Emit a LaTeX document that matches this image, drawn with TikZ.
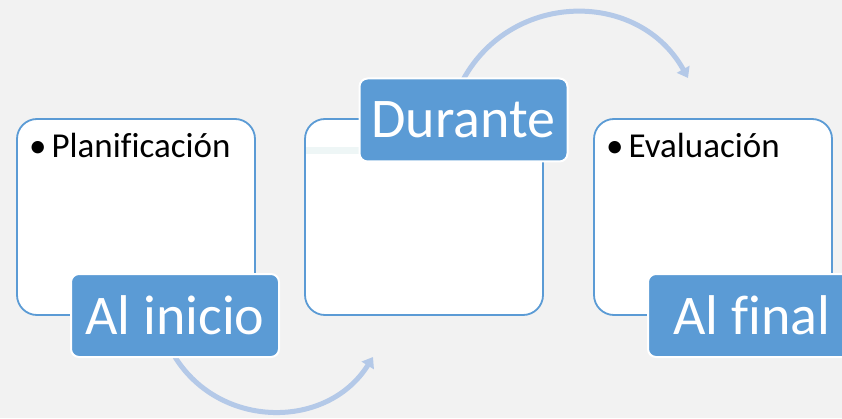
\documentclass[tikz,border=0pt]{standalone}
\usepackage{fontspec}
\setmainfont[Ligatures=NoCommon]{Carlito}
\usepackage{xcolor}
\usepackage{tikz}
\usetikzlibrary{arrows.meta}
\definecolor{bgray}{HTML}{F2F2F2}
\definecolor{stepblue}{HTML}{5B9BD5}
\definecolor{arcblue}{HTML}{B4C9E8}
\definecolor{paleband}{HTML}{EEF6F6}
\tikzset{
  panel/.style={draw=stepblue, line width=1.8pt, fill=white, rounded corners=20pt,
    minimum width=238pt, minimum height=196pt},
  tag/.style={draw=white, line width=2pt, fill=stepblue, rounded corners=8pt,
    text=white, font=\fontsize{56}{60}\selectfont,
    minimum width=208pt, minimum height=83pt, inner sep=0pt},
  item/.style={anchor=base west, font=\fontsize{35}{38}\selectfont, inner sep=0pt},
  turn/.style={draw=arcblue, line width=5pt, -{Triangle[length=10pt,width=14pt]}}
}

\begin{document}
\begin{tikzpicture}[x=1pt, y=1pt]
    \useasboundingbox[fill=bgray] (0,0) rectangle (842,418);

    % arcs go underneath everything
    \coordinate (tipA) at (373, 61);
    \coordinate (tipB) at (688, 340);
    \coordinate (startA) at (175, 61);
    \coordinate (startB) at (463.5, 339);
    \draw[turn] (startA) to[out=-58, in=-122, looseness=1.11] (tipA);
    \draw[turn] (startB) to[out=61, in=119, looseness=1.15] (tipB);

    \node[panel] at (136, 201) (inicioBox) {};
    \node[panel] at (424, 201) (duranteBox) {};
    \node[panel] at (713, 201) (finalBox) {};
    \fill[paleband] (306, 264) rectangle (400, 271);

    \node[item] at (29, 260) (plan) {\textbullet\hspace{5pt}Planificación};
    \node[item] at (606, 260) (eval) {\textbullet\hspace{5pt}Evaluación};

    \node[tag] at (175, 102.5) (inicio) {Al inicio};
    \node[tag] at (463.5, 298) (durante) {Durante};
    \node[tag] at (752, 102.5) (final) {Al final};
\end{tikzpicture}
\end{document}
